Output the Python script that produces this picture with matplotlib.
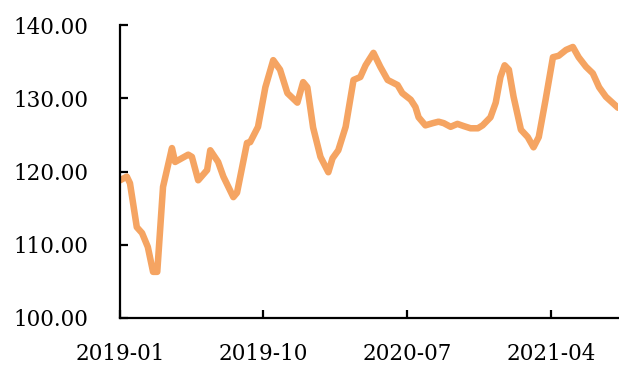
import matplotlib
matplotlib.use("Agg")
import matplotlib.pyplot as plt
import matplotlib.dates as mdates
import pandas as pd

# Price index series
dates = [
    "2019-01-01", "2019-01-14", "2019-01-20", "2019-02-02", "2019-02-12", "2019-02-23",
    "2019-03-05", "2019-03-13", "2019-03-24", "2019-04-10", "2019-04-16", "2019-05-11",
    "2019-05-18", "2019-05-30", "2019-06-16", "2019-06-22", "2019-07-07", "2019-07-17",
    "2019-08-05", "2019-08-12", "2019-08-31", "2019-09-06", "2019-09-21", "2019-10-05",
    "2019-10-20", "2019-11-02", "2019-11-16", "2019-12-05", "2019-12-16", "2019-12-24",
    "2020-01-04", "2020-01-18", "2020-02-02", "2020-02-10", "2020-02-21", "2020-03-06",
    "2020-03-21", "2020-04-03", "2020-04-13", "2020-04-28", "2020-05-11", "2020-05-25",
    "2020-06-13", "2020-06-22", "2020-07-08", "2020-07-17", "2020-07-23", "2020-08-05",
    "2020-08-19", "2020-08-30", "2020-09-09", "2020-09-22", "2020-10-05", "2020-10-17",
    "2020-10-30", "2020-11-13", "2020-11-22", "2020-12-07", "2020-12-17", "2020-12-26",
    "2021-01-03", "2021-01-11", "2021-01-20", "2021-02-03", "2021-02-16", "2021-02-27",
    "2021-03-09", "2021-03-22", "2021-04-05", "2021-04-16", "2021-04-30", "2021-05-13",
    "2021-05-24", "2021-06-07", "2021-06-20", "2021-07-02", "2021-07-15", "2021-08-07",
]
values = [
    118.8, 119.3, 118.4, 112.4, 111.6, 109.7,
    106.3, 106.3, 117.9, 123.2, 121.3, 122.3,
    122.0, 118.8, 120.2, 122.9, 121.3, 119.3,
    116.5, 117.1, 123.9, 124.0, 126.1, 131.5,
    135.2, 133.9, 130.7, 129.4, 132.2, 131.5,
    126.0, 122.0, 119.9, 121.8, 122.9, 126.1,
    132.5, 132.9, 134.5, 136.2, 134.3, 132.5,
    131.8, 130.7, 129.8, 128.8, 127.4, 126.3,
    126.6, 126.8, 126.6, 126.1, 126.5, 126.2,
    125.9, 125.9, 126.3, 127.4, 129.4, 132.9,
    134.5, 133.9, 130.2, 125.7, 124.7, 123.3,
    124.7, 129.8, 135.6, 135.8, 136.6, 137.0,
    135.6, 134.3, 133.4, 131.5, 130.2, 128.7,
]
x_ticks = ["2019-01-01", "2019-10-01", "2020-07-01", "2021-04-01"]
y_ticks = [100, 110, 120, 130, 140]

x = pd.to_datetime(dates)

fig = plt.figure(figsize=(6.19, 3.70), dpi=100)
ax = fig.add_axes([120 / 619, 1 - 318 / 370, (618 - 120) / 619, (318 - 25) / 370])

ax.plot(x, values, color="#F5A462", linewidth=4.7, solid_joinstyle="round",
        solid_capstyle="round")

ax.set_xlim(x[0], x[-1])
ax.set_ylim(100, 140)
ax.set_yticks(y_ticks)
ax.yaxis.set_major_formatter(matplotlib.ticker.FormatStrFormatter("%.2f"))
ax.set_xticks(pd.to_datetime(x_ticks))
ax.xaxis.set_major_formatter(mdates.DateFormatter("%Y-%m"))

for side in ("top", "right"):
    ax.spines[side].set_visible(False)
for side in ("left", "bottom"):
    ax.spines[side].set_linewidth(1.6)
    ax.spines[side].set_color("black")

ax.tick_params(axis="both", direction="in", length=6, width=1.6, colors="black",
               labelsize=15.5)
ax.tick_params(axis="y", pad=23)
ax.tick_params(axis="x", pad=18)
for lab in ax.get_xticklabels() + ax.get_yticklabels():
    lab.set_family("DejaVu Serif")
    lab.set_color("black")

fig.savefig("out.png", dpi=100)
